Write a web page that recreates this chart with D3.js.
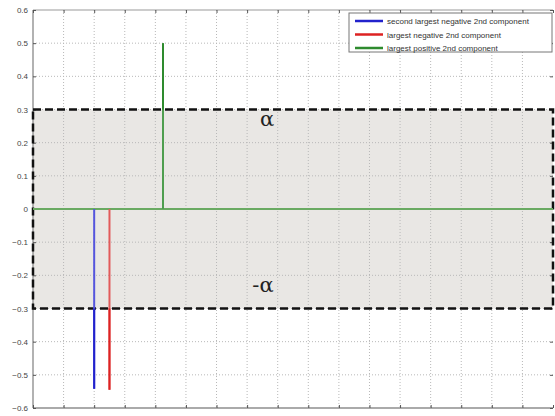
<!DOCTYPE html>
<html>
<head>
<meta charset="utf-8">
<script src="https://cdn.jsdelivr.net/npm/d3@7"></script>
<style>
body { margin: 0; background: #fff; }
svg { display: block; font-family: "Liberation Sans", Arial, sans-serif; }
</style>
</head>
<body>
<div id="chart"></div>
<script>
// stem data
const seriesNames = ["second largest negative 2nd component", "largest negative 2nd component", "largest positive 2nd component"];
const seriesColors = ["#2222cc", "#dd2222", "#2e8b2e"];
const stemX = [2, 2.5, 4.25];
const stemY = [-0.542, -0.545, 0.5];
const alpha = 0.3;
const yTicks = [-0.6, -0.5, -0.4, -0.3, -0.2, -0.1, 0, 0.1, 0.2, 0.3, 0.4, 0.5, 0.6];
const xTicks = d3.range(0, 18);

const width = 555, height = 416;
const margin = {left: 33, right: 2, top: 10, bottom: 8};

const svg = d3.select("#chart").append("svg")
    .attr("width", width).attr("height", height);

const x = d3.scaleLinear().domain([0, 17]).range([margin.left, width - margin.right]);
const y = d3.scaleLinear().domain([-0.6, 0.6]).range([height - margin.bottom, margin.top]);

// alpha band
svg.append("rect")
    .attr("x", x(0)).attr("y", y(alpha))
    .attr("width", x(17) - x(0)).attr("height", y(-alpha) - y(alpha))
    .attr("fill", "#e9e7e4");

// grid
const grid = svg.append("g").attr("stroke", "#b8b8b8").attr("stroke-width", 1).attr("stroke-dasharray", "1,2");
grid.selectAll(".gx").data(xTicks.slice(1, -1)).join("line")
    .attr("x1", d => x(d)).attr("x2", d => x(d)).attr("y1", y(0.6)).attr("y2", y(-0.6));
grid.selectAll(".gy").data(yTicks.slice(1, -1)).join("line")
    .attr("x1", x(0)).attr("x2", x(17)).attr("y1", d => y(d)).attr("y2", d => y(d));

// frame
svg.append("line").attr("x1", x(0)).attr("x2", x(0)).attr("y1", y(0.6)).attr("y2", y(-0.6)).attr("stroke", "#999").attr("stroke-width", 1.5);
svg.append("line").attr("x1", x(0)).attr("x2", x(17)).attr("y1", y(-0.6)).attr("y2", y(-0.6)).attr("stroke", "#aaa").attr("stroke-width", 2);
svg.append("line").attr("x1", x(0)).attr("x2", x(17)).attr("y1", y(0.6)).attr("y2", y(0.6)).attr("stroke", "#999").attr("stroke-width", 1.2);

// axes
const yAxis = svg.append("g").attr("transform", `translate(${x(0)},0)`)
    .call(d3.axisLeft(y).tickValues(yTicks).tickSize(-3).tickPadding(5).tickFormat(d => d3.format("")(+d.toFixed(1))));
yAxis.select(".domain").remove();
yAxis.selectAll("text").attr("fill", "#444").attr("font-size", 8);
yAxis.selectAll("line").attr("stroke", "#555");

const yAxisR = svg.append("g").attr("transform", `translate(${x(17)},0)`)
    .call(d3.axisRight(y).tickValues(yTicks).tickSize(-3).tickFormat(""));
yAxisR.select(".domain").remove();
yAxisR.selectAll("line").attr("stroke", "#555");

const xAxis = svg.append("g").attr("transform", `translate(0,${y(-0.6)})`)
    .call(d3.axisBottom(x).tickValues(xTicks).tickSize(-3).tickFormat(""));
xAxis.select(".domain").remove();
xAxis.selectAll("line").attr("stroke", "#555");
const xAxisT = svg.append("g").attr("transform", `translate(0,${y(0.6)})`)
    .call(d3.axisTop(x).tickValues(xTicks).tickSize(-3).tickFormat(""));
xAxisT.select(".domain").remove();
xAxisT.selectAll("line").attr("stroke", "#555");

// dashed threshold box
svg.append("rect")
    .attr("x", x(0)).attr("y", y(alpha))
    .attr("width", x(17) - x(0)).attr("height", y(-alpha) - y(alpha))
    .attr("fill", "none").attr("stroke", "#111").attr("stroke-width", 2.5)
    .attr("stroke-dasharray", "8,4");

// zero line of green series
svg.append("line").attr("x1", x(0)).attr("x2", x(17)).attr("y1", y(0)).attr("y2", y(0))
    .attr("stroke", "#6aaa62").attr("stroke-width", 2);

// stems
const lineColors = ["#5555dd", "#e25a5a", "#4f9e4f"];
svg.append("g").selectAll("line").data(stemX).join("line")
    .attr("x1", d => x(d)).attr("x2", d => x(d))
    .attr("y1", y(0)).attr("y2", (d, i) => y(stemY[i]))
    .attr("stroke", (d, i) => lineColors[i]).attr("stroke-width", 2);
// darker part outside the band
svg.append("g").selectAll("line").data(stemX).join("line")
    .attr("x1", d => x(d)).attr("x2", d => x(d))
    .attr("y1", (d, i) => y(Math.sign(stemY[i]) * alpha)).attr("y2", (d, i) => y(stemY[i]))
    .attr("stroke", (d, i) => seriesColors[i]).attr("stroke-width", 2);

// alpha labels
svg.append("text").attr("x", 267).attr("y", y(0.25)).attr("text-anchor", "middle")
    .attr("font-family", "'DejaVu Serif', serif").attr("font-size", 21).attr("fill", "#222").text("α");
svg.append("text").attr("x", 263).attr("y", y(-0.25)).attr("text-anchor", "middle")
    .attr("font-family", "'DejaVu Serif', serif").attr("font-size", 21).attr("fill", "#222").text("-α");

// legend
const lg = svg.append("g").attr("transform", "translate(349,13)");
lg.append("rect").attr("width", 203).attr("height", 39).attr("fill", "#fff").attr("stroke", "#777").attr("stroke-width", 1);
seriesNames.forEach((name, i) => {
    const ly = 8 + i * 13.5;
    lg.append("line").attr("x1", 6).attr("x2", 34).attr("y1", ly).attr("y2", ly)
        .attr("stroke", seriesColors[i]).attr("stroke-width", 2.5);
    lg.append("text").attr("x", 38).attr("y", ly + 3).attr("font-size", 8).attr("fill", "#333").text(name);
});
</script>
</body>
</html>
